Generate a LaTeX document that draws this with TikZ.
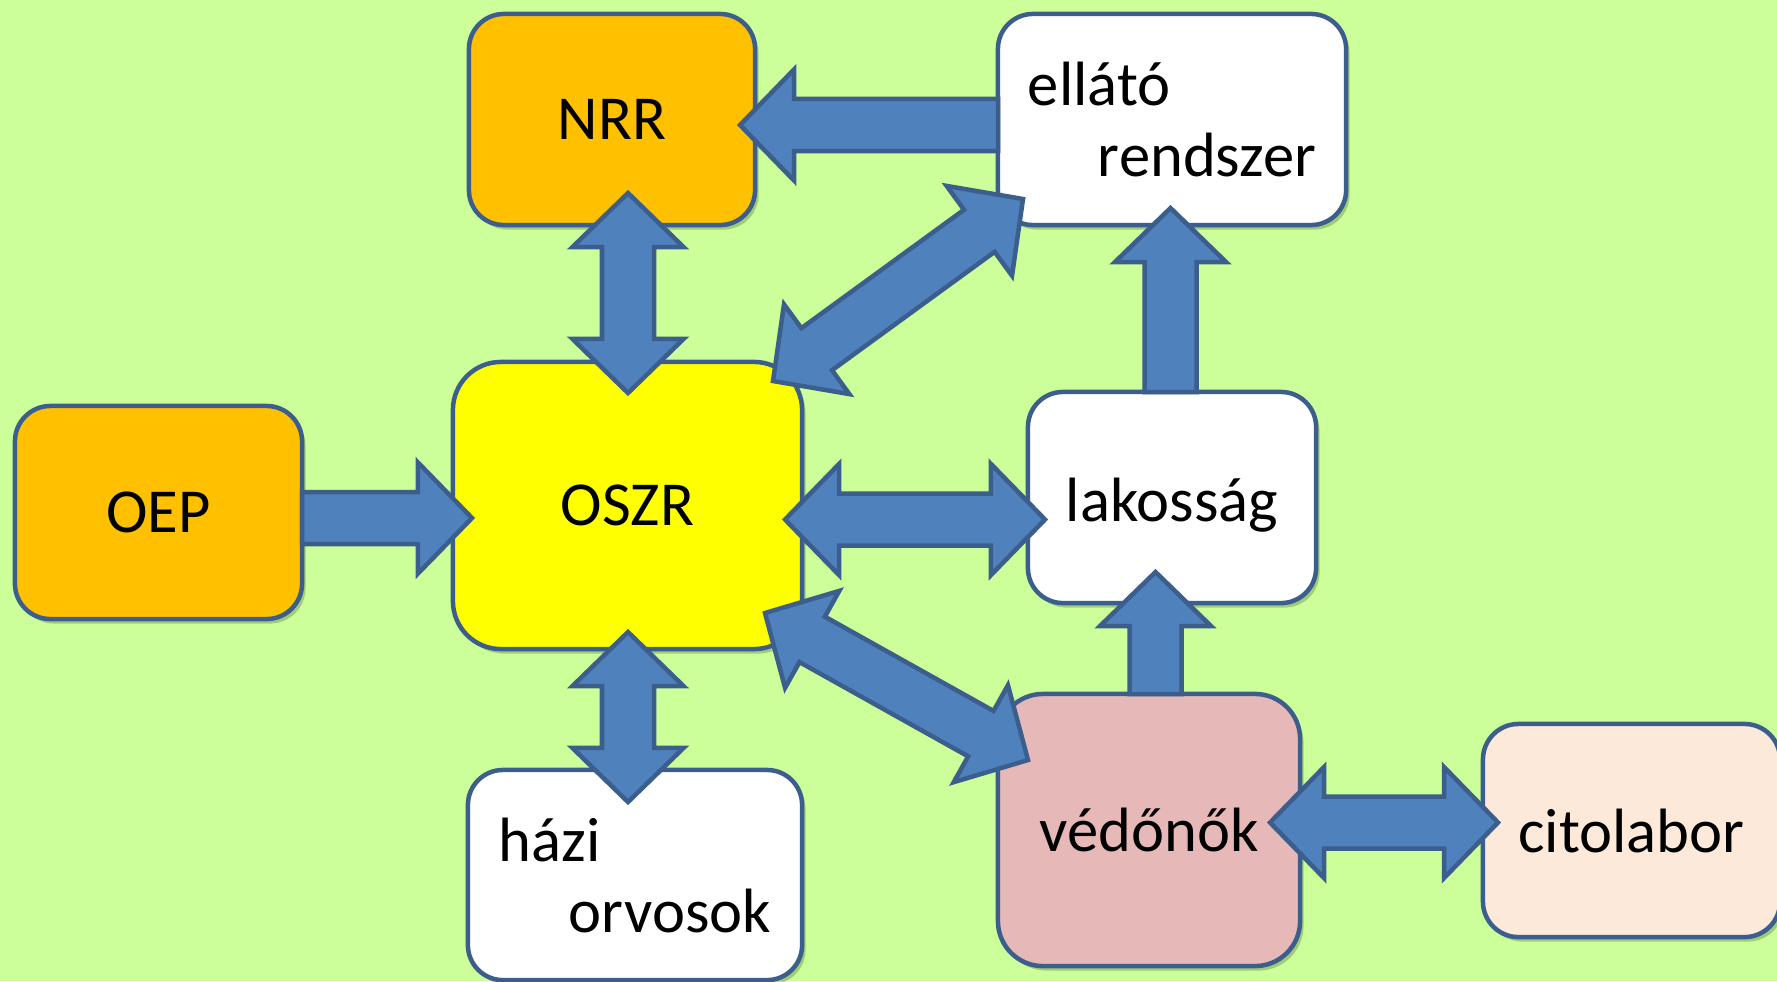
\documentclass[tikz,border=0pt]{standalone}
\usepackage{fontspec}
\setmainfont{Carlito}
\usetikzlibrary{calc,shadows}
\definecolor{bg}{HTML}{CCFF99}
\definecolor{bord}{HTML}{3B5E8C}
\definecolor{arr}{HTML}{4F81BD}
\definecolor{orng}{HTML}{FFC000}
\definecolor{yel}{HTML}{FFFF00}
\definecolor{rosy}{HTML}{E6B9B8}
\definecolor{peach}{HTML}{FDE9D9}
\definecolor{shad}{HTML}{6E8F4E}
\tikzset{
  box/.style={draw=bord, line width=0.045cm, inner sep=0pt, outer sep=0pt,
    font=\fontsize{17.8pt}{20.2pt}\selectfont, align=left,
    drop shadow={shadow xshift=0.035cm, shadow yshift=-0.045cm, fill=shad, opacity=0.45}},
  blockarrow/.style={draw=bord, fill=arr, line width=0.045cm, line join=miter},
}
\def\arl{0.54cm}
\def\arw{0.555cm}
\def\ars{0.26cm}
% single block arrow from #1 (tail) to #2 (tip)
\newcommand\sgarrow[2]{%
  \coordinate (bb) at ($(#2)!\arl!(#1)$);
  \draw[blockarrow] ($(#1)!\ars!90:(#2)$) -- ($(bb)!\ars!90:(#2)$) -- ($(bb)!\arw!90:(#2)$) -- (#2)
    -- ($(bb)!\arw!-90:(#2)$) -- ($(bb)!\ars!-90:(#2)$) -- ($(#1)!\ars!-90:(#2)$) -- cycle;}
% double block arrow between tips #1 and #2
\newcommand\dblarrow[2]{%
  \coordinate (ba) at ($(#1)!\arl!(#2)$);
  \coordinate (bb) at ($(#2)!\arl!(#1)$);
  \draw[blockarrow] (#1) -- ($(ba)!\arw!90:(#2)$) -- ($(ba)!\ars!90:(#2)$) -- ($(bb)!\ars!90:(#2)$)
    -- ($(bb)!\arw!90:(#2)$) -- (#2) -- ($(bb)!\arw!-90:(#2)$) -- ($(bb)!\ars!-90:(#2)$)
    -- ($(ba)!\ars!-90:(#2)$) -- ($(ba)!\arw!-90:(#2)$) -- cycle;}
\begin{document}
\begin{tikzpicture}[x=0.01cm, y=-0.01cm]
\useasboundingbox (0,0) rectangle (1777,981);
\clip (0,0) rectangle (1777,981);
\fill[bg] (0,0) rectangle (1777,981);

% boxes
\node[box, fill=orng, minimum width=2.86cm, minimum height=2.11cm, rounded corners=0.35cm] (NRR) at (612,119.5) {NRR};
\node[box, fill=white, minimum width=3.48cm, minimum height=2.11cm, rounded corners=0.35cm] (ELL) at (1172,119.5) {ellátó\\\hspace*{0.7cm}rendszer};
\node[box, fill=orng, minimum width=2.87cm, minimum height=2.13cm, rounded corners=0.355cm] (OEP) at (158.5,512.5) {OEP};
\node[box, fill=yel, minimum width=3.49cm, minimum height=2.87cm, rounded corners=0.48cm] (OSZR) at (627.5,505.5) {OSZR};
\node[box, fill=white, minimum width=2.88cm, minimum height=2.11cm, rounded corners=0.35cm] (LAK) at (1172,497.5) {\raisebox{-0.08cm}[\height][\depth]{lakosság}};
\node[box, fill=white, minimum width=3.34cm, minimum height=2.10cm, rounded corners=0.35cm] (HAZ) at (635,875) {házi\\\hspace*{0.7cm}orvosok};
\node[box, fill=rosy, minimum width=3.02cm, minimum height=2.72cm, rounded corners=0.45cm] (VED) at (1149,830) {védőnők};
\node[box, fill=peach, minimum width=2.97cm, minimum height=2.13cm, rounded corners=0.355cm] (CIT) at (1631.5,830.5) {citolabor};

% arrow end points
\coordinate (e1a) at (998,125);   \coordinate (e1b) at (740,125);
\coordinate (e2a) at (628,193);   \coordinate (e2b) at (628,393);
\coordinate (e3a) at (302,518);   \coordinate (e3b) at (472,518);
\coordinate (e4a) at (785,519.5); \coordinate (e4b) at (1045,519.5);
\coordinate (e5a) at (1170.5,392);\coordinate (e5b) at (1170.5,208);
\coordinate (e6a) at (1155.5,694);\coordinate (e6b) at (1155.5,572);
\coordinate (e7a) at (628,632);   \coordinate (e7b) at (628,802);
\coordinate (e8a) at (1270,822.5);\coordinate (e8b) at (1498,822.5);
\coordinate (e9a) at (773,381);   \coordinate (e9b) at (1023,199);
\coordinate (e10a) at (765,613);  \coordinate (e10b) at (1028,760);

\sgarrow{e1a}{e1b}
\dblarrow{e2a}{e2b}
\sgarrow{e3a}{e3b}
\dblarrow{e4a}{e4b}
\sgarrow{e5a}{e5b}
\sgarrow{e6a}{e6b}
\dblarrow{e7a}{e7b}
\dblarrow{e8a}{e8b}
\dblarrow{e9a}{e9b}
\dblarrow{e10a}{e10b}
\end{tikzpicture}
\end{document}
